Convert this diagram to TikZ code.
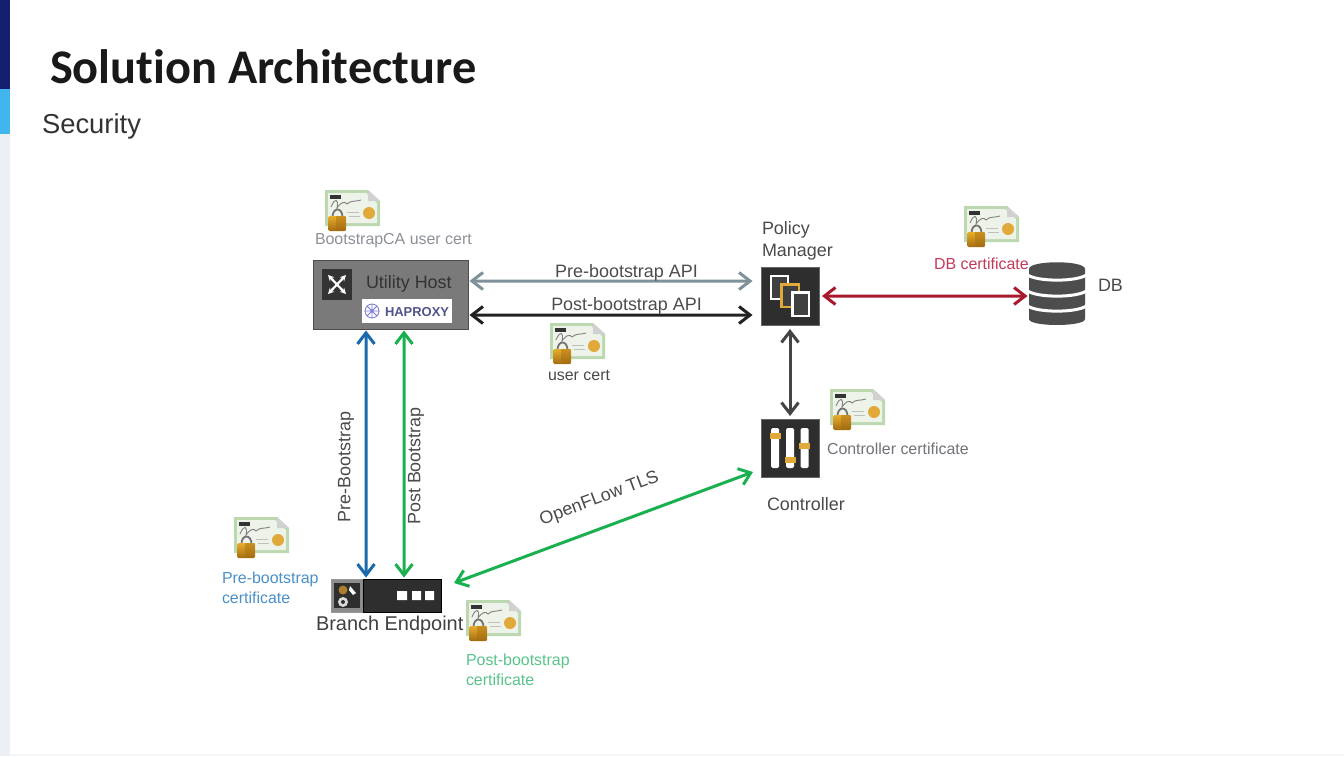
\documentclass[tikz,border=0pt]{standalone}
\usepackage{fontspec}
\setmainfont{Liberation Sans}
\newfontfamily\titlefont[Ligatures=NoCommon]{Carlito}
\usetikzlibrary{arrows.meta}
\definecolor{navybar}{HTML}{14206F}
\definecolor{skybar}{HTML}{41B6EE}
\definecolor{sidebar}{HTML}{ECEFF3}
\definecolor{txtgray}{HTML}{4A4A4A}
\definecolor{certgreen}{HTML}{BCD8B0}
\definecolor{certpaper}{HTML}{EEF3EA}
\definecolor{gold}{HTML}{E0A93A}
\definecolor{lockgold}{HTML}{E8AE2C}
\definecolor{lockdark}{HTML}{A46C10}
\definecolor{iconblack}{HTML}{2E2E2E}
\definecolor{arrowslate}{HTML}{7F929B}
\definecolor{arrowblack}{HTML}{222222}
\definecolor{arrowgray}{HTML}{444444}
\definecolor{arrowblue}{HTML}{1A69AD}
\definecolor{arrowgreen}{HTML}{19B04F}
\definecolor{arrowred}{HTML}{A8192E}
\definecolor{lblgray}{HTML}{8C9096}
\definecolor{lblblue}{HTML}{4A90C8}
\definecolor{lblgreen}{HTML}{58C48A}
\definecolor{lblred}{HTML}{C23A5A}
\definecolor{dbgray}{HTML}{4D4D4D}
\tikzset{
  x=1bp,y=-1bp,
  barb/.tip={Straight Barb[length=11bp,width=17bp,line width=3bp]},
  conn/.style={line width=3bp,barb-barb,shorten <=1.5bp,shorten >=1.5bp},
  lbl/.style={font=\fontsize{18}{21}\selectfont,text=txtgray,inner sep=0pt,outer sep=0pt},
  certlbl/.style={font=\fontsize{16}{19.5}\selectfont,inner sep=0pt,outer sep=0pt,align=left},
  box/.style={inner sep=0pt,outer sep=0pt},
  certificate/.pic={
    \fill[certgreen] (0,0)--(43,0)--(55,11)--(55,36)--(0,36)--cycle;
    \fill[certpaper] (3,3)--(41,3)--(52,13)--(52,33)--(3,33)--cycle;
    \fill[black!18] (43,0)--(55,11)--(43,11)--cycle;
    \fill[black!80] (5,5) rectangle (16,8.5);
    \draw[black!50,line width=.9bp] (6,17) .. controls (10,7) and (14,9) .. (12,18) .. controls (16,12) and (20,11) .. (22,14) .. controls (26,10) and (30,12) .. (36,10);
    \draw[black!25,line width=.8bp] (22,22)--(34,22) (24,26)--(35,26);
    \fill[gold] (44,23) circle (6bp);
    \draw[black!55,line width=1.8bp] (7.5,27) .. controls (7.5,17) and (17.5,17) .. (17.5,27);
    \shade[top color=lockgold,bottom color=lockdark,rounded corners=1.5bp] (3,26) rectangle (21,41);
    \fill[lockdark,opacity=.45] (11,26) rectangle (21,41);
  }
}
\begin{document}
\begin{tikzpicture}
\useasboundingbox (0,0) rectangle (1344,756);
\fill[white] (0,0) rectangle (1344,756);
\fill[black!4] (0,754) rectangle (1344,756);
\fill[sidebar] (0,134) rectangle (10,756);
\fill[navybar] (0,0) rectangle (10,89);
\fill[skybar] (0,89) rectangle (10,134);

\node[box,anchor=west,font=\titlefont\bfseries\fontsize{48.5}{54}\selectfont,text=black!90] (title) at (50,67) {Solution Architecture};
\node[box,anchor=west,font=\fontsize{27.5}{32}\selectfont,text=black!80] (subtitle) at (42,126) {Security};

% Utility host
\node[box,draw=black!70,line width=1bp,fill=black!52,minimum width=155bp,minimum height=69bp] (uh) at (390.5,294.5) {};
\fill[black!80] (322,269) rectangle (352,300);
\draw[white,line width=2.2bp,-{Stealth[length=6bp,width=6bp]}] (337,284.5)--(328,275);
\draw[white,line width=2.2bp,-{Stealth[length=6bp,width=6bp]}] (337,284.5)--(346,275);
\draw[white,line width=2.2bp,-{Stealth[length=6bp,width=6bp]}] (337,284.5)--(328,294);
\draw[white,line width=2.2bp,-{Stealth[length=6bp,width=6bp]}] (337,284.5)--(346,294);
\node[box,anchor=west,font=\fontsize{18}{21}\selectfont,text=black!80] (uhtext) at (366,283.5) {Utility Host};
\fill[white] (362,299) rectangle (452,323);
\draw[blue!50!gray!70,line width=.8bp] (372,311) circle (7bp) (365,311)--(379,311) (372,304)--(372,318) (367,306)--(377,316) (367,316)--(377,306);
\node[box,anchor=west,font=\bfseries\fontsize{13}{16}\selectfont,text=black!35!blue!35!gray] (haproxy) at (385,312) {HAPROXY};

% Policy manager
\node[box,draw=black!60,fill=iconblack,minimum size=58bp] (pm) at (790,296) {};
\draw[white,line width=2.5bp,fill=black!75] (771,276) rectangle (788,299);
\draw[gold,line width=2.5bp,fill=black!75] (781.5,284.5) rectangle (799,307);
\draw[white,line width=2.5bp,fill=black!75] (792.5,292.5) rectangle (809,316);
\node[lbl,anchor=west] (pmtext1) at (762,230) {Policy};
\node[lbl,anchor=west] (pmtext2) at (762,252) {Manager};

% Controller
\node[box,draw=black!60,fill=iconblack,minimum size=58bp] (ctrl) at (790,448) {};
\foreach \bx/\ky in {775/436,790/460,804.5/446}{
  \fill[white,rounded corners=1.5bp] (\bx-4,428) rectangle (\bx+4,468);
  \fill[gold] (\bx-5.5,\ky-3) rectangle (\bx+5.5,\ky+3);
}
\node[lbl,anchor=west] (ctrltext) at (767,504) {Controller};

% DB
\node[box,minimum width=56bp,minimum height=62bp] (db) at (1057,294) {};
\fill[dbgray] (1029,269) .. controls (1029,260) and (1085,260) .. (1085,269) -- (1085,319)
     .. controls (1085,327) and (1029,327) .. (1029,319) -- cycle;
\foreach \gy in {278,294,309}{
  \draw[white,line width=3bp] (1027,\gy-3.5) .. controls (1036,\gy+4) and (1078,\gy+4) .. (1087,\gy-3.5);
}
\node[lbl,anchor=west] (dbtext) at (1098,285) {DB};

% Branch endpoint
\node[box,draw=black!40,fill=black!45,minimum width=33bp,minimum height=33bp] (beleft) at (347.5,595.5) {};
\fill[iconblack] (334,583) rectangle (360,608);
\fill[black!25!gold] (343,590) circle (4.5bp);
\fill[black!15] (343,602) circle (5bp);
\fill[iconblack] (343,602) circle (2bp);
\fill[white] (350,586)--(356,593)--(353,595)--(349,590)--cycle;
\node[box,draw=black,fill=black!82,minimum width=78bp,minimum height=33bp] (beright) at (402.5,595.5) {};
\fill[white] (397,591) rectangle (407,600) (412,591) rectangle (421,600) (425,591) rectangle (434,600);
\node[box,minimum width=110bp,minimum height=33bp] (be) at (386,595.5) {};
\node[box,anchor=west,font=\fontsize{20}{23}\selectfont,text=black!75] (betext) at (316,625) {Branch Endpoint};

% Connectors
\draw[conn,arrowslate,shorten >=8.5bp] ([yshift=13.5bp]uh.east) -- ([yshift=15bp]pm.west);
\draw[conn,arrowblack,shorten >=8.5bp] ([yshift=-20.5bp]uh.east) -- ([yshift=-19bp]pm.west);
\draw[conn,arrowred,shorten <=3bp] (pm.east) -- ([yshift=-2bp]db.west);
\draw[conn,arrowgray,shorten <=4bp,shorten >=3bp] (pm.south) -- (ctrl.north);
\draw[conn,arrowblue] ([xshift=-24.5bp]uh.south) -- ([xshift=-20bp]be.north);
\draw[conn,arrowgreen] ([xshift=13.5bp]uh.south) -- ([xshift=18bp]be.north);
\draw[conn,arrowgreen,shorten <=0bp,shorten >=0bp] ([xshift=13bp,yshift=-4bp]be.north east) -- ([xshift=-8bp,yshift=5bp]ctrl.south west);

% Connector labels
\node[lbl,text=black!70] (lpre) at (626.5,272.5) {Pre-bootstrap API};
\node[lbl,text=black!70] (lpost) at (626.5,305.5) {Post-bootstrap API};
\node[lbl,rotate=90] (lpb) at (346,467) {Pre-Bootstrap};
\node[lbl,rotate=90] (lpob) at (416,466) {Post Bootstrap};
\node[lbl,rotate=20.4] (lof) at (599.5,499) {OpenFLow TLS};

% Certificates
\pic (c1) at (325,190) {certificate};
\pic (c2) at (964,206) {certificate};
\pic (c3) at (830,389) {certificate};
\pic (c4) at (234,517) {certificate};
\pic (c5) at (466,600) {certificate};
\pic (c6) at (550,323) {certificate};

\node[certlbl,anchor=west,text=lblgray] (t1) at (315,241) {BootstrapCA user cert};
\node[certlbl,anchor=west,text=lblred] (t2) at (934,264) {DB certificate};
\node[certlbl,anchor=west,text=lblgray!80!black] (t3) at (827,449) {Controller certificate};
\node[certlbl,anchor=west,text=lblblue] (t4) at (222,588) {Pre-bootstrap\\certificate};
\node[certlbl,anchor=west,text=lblgreen] (t5) at (466,670) {Post-bootstrap\\certificate};
\node[certlbl,anchor=west,text=txtgray] (t6) at (548,375) {user cert};
\end{tikzpicture}
\end{document}
